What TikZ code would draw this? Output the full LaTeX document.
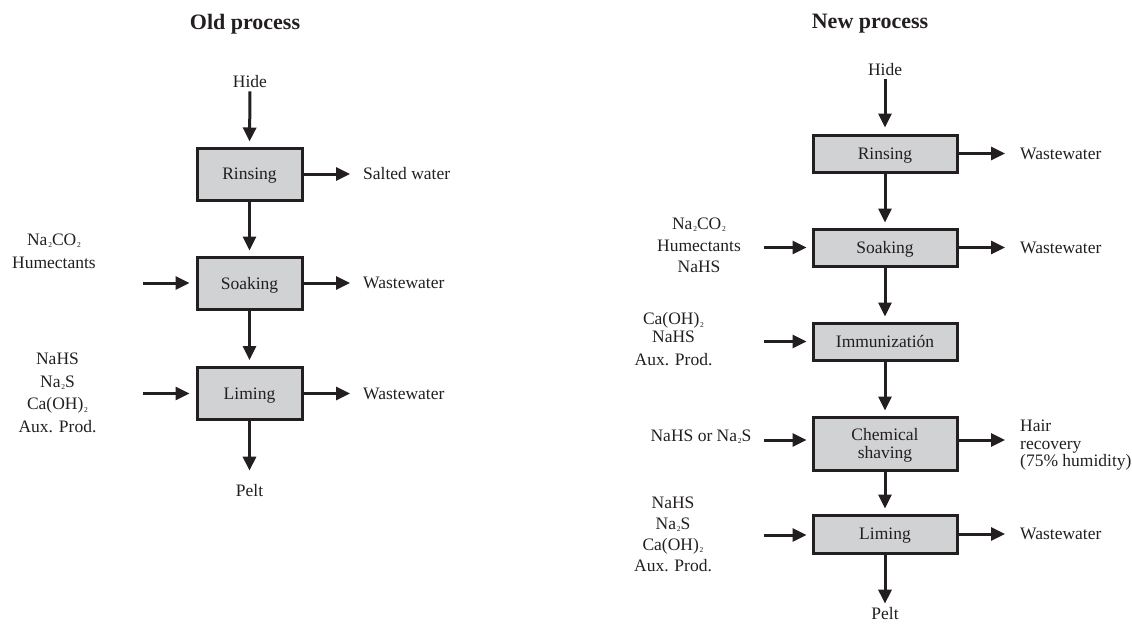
\documentclass[tikz,border=0pt]{standalone}
\usepackage{fontspec}
\setmainfont{Liberation Serif}
\usetikzlibrary{arrows.meta}
\definecolor{ink}{HTML}{231F20}
\definecolor{boxfill}{HTML}{D1D2D4}
\newcommand{\sbs}[1]{\kern0.8pt\raisebox{-0.12em}{\fontsize{7.5}{8}\selectfont #1}}
\tikzset{
  every node/.style={text=ink, font=\fontsize{17.5}{21}\selectfont},
  title/.style={font=\fontsize{22}{26}\selectfont\bfseries},
  oldbox/.style={draw=ink, fill=boxfill, line width=3pt, minimum width=105pt, minimum height=52pt, inner sep=0pt, text depth=0pt},
  newbox/.style={draw=ink, fill=boxfill, line width=3pt, minimum width=144pt, minimum height=37pt, inner sep=0pt, text depth=0pt},
  lbl/.style={align=center, inner sep=2pt},
  flow/.style={draw=ink, line width=3pt, -{Triangle[length=14pt,width=13pt]}},
}
\begin{document}
\begin{tikzpicture}[x=1pt,y=-1pt]
\useasboundingbox (0,0) rectangle (1132,624);
% ---------------- Old process ----------------
\node[title] (oldt) at (245,24) {Old process};
\node[lbl] (ohide) at (250,82) {Hide};
\node[oldbox] (orin) at (249.5,174) {Rinsing};
\node[oldbox] (osoak) at (249.5,283) {Soaking};
\node[oldbox] (olim) at (249.5,393.5) {Liming};
\node[lbl] (opelt) at (249.5,491) {Pelt};
\node[lbl, anchor=west] (osalt) at (361,174) {Salted water};
\node[lbl, anchor=west] (ow1) at (361,283) {Wastewater};
\node[lbl, anchor=west] (ow2) at (361,393.5) {Wastewater};
\node[lbl, font=\fontsize{17.5}{23}\selectfont] (oin1) at (54,251.5) {Na\sbs{2}CO\sbs{2}\\Humectants};
\node[lbl, font=\fontsize{17.5}{22.5}\selectfont] (oin2) at (57.5,393) {NaHS\\Na\sbs{2}S\\Ca(OH)\sbs{2}\\Aux. Prod.};
\coordinate (oc1) at (143,283);
\coordinate (oc2) at (143,393.5);
\draw[flow, shorten <=1pt, shorten >=5pt] (ohide.south) -- (orin.north);
\draw[flow, shorten >=5pt] (orin.south) -- (osoak.north);
\draw[flow, shorten >=6pt] (osoak.south) -- (olim.north);
\draw[flow, shorten >=12pt] (olim.south) -- (opelt.north);
\draw[flow, shorten >=11pt] (orin.east) -- (orin.east -| osalt.west);
\draw[flow, shorten >=11pt] (osoak.east) -- (osoak.east -| ow1.west);
\draw[flow, shorten >=11pt] (olim.east) -- (olim.east -| ow2.west);
\draw[flow, shorten >=6pt] (oc1) -- (osoak.west);
\draw[flow, shorten >=6pt] (oc2) -- (olim.west);
% ---------------- New process ----------------
\node[title] (newt) at (870,24) {New process};
\node[lbl] (nhide) at (885,70) {Hide};
\node[newbox] (nrin) at (885,153.5) {Rinsing};
\node[newbox] (nsoak) at (885,247.5) {Soaking};
\node[newbox] (nimm) at (885,341.5) {Immunizatión};
\node[newbox, minimum height=53pt, align=center, font=\fontsize{17.5}{18}\selectfont] (nchem) at (885,443.5) {Chemical\\shaving};
\node[newbox, minimum height=38pt] (nlim) at (885,534) {Liming};
\node[lbl] (npelt) at (885,614) {Pelt};
\node[lbl, anchor=west] (nw1) at (1018,153.5) {Wastewater};
\node[lbl, anchor=west] (nw2) at (1018,247.5) {Wastewater};
\node[lbl, anchor=west, align=left, font=\fontsize{17.5}{17.5}\selectfont] (nhair) at (1018,445.5) {Hair\\recovery\\(75\% humidity)};
\node[lbl, anchor=west] (nw3) at (1018,534) {Wastewater};
\node[lbl, font=\fontsize{17.5}{21.5}\selectfont] (nin1) at (699,245.5) {Na\sbs{2}CO\sbs{2}\\Humectants\\NaHS};
\node[lbl, font=\fontsize{17.5}{20.5}\selectfont] (nin2) at (673.5,339.5) {Ca(OH)\sbs{2}\\[-2.5pt]NaHS\\[2.5pt]Aux. Prod.};
\node[lbl] (nin3) at (701,437) {NaHS or Na\sbs{2}S};
\node[lbl, font=\fontsize{17.5}{21}\selectfont] (nin4) at (673,534.5) {NaHS\\Na\sbs{2}S\\Ca(OH)\sbs{2}\\Aux. Prod.};
\coordinate (nc1) at (764,247.5);
\coordinate (nc2) at (764,341.5);
\coordinate (nc3) at (764,440);
\coordinate (nc4) at (764,535);
\draw[flow, shorten <=1pt, shorten >=6pt] (nhide.south) -- (nrin.north);
\draw[flow, shorten >=5pt] (nrin.south) -- (nsoak.north);
\draw[flow, shorten >=5pt] (nsoak.south) -- (nimm.north);
\draw[flow, shorten >=5pt] (nimm.south) -- (nchem.north);
\draw[flow, shorten >=5pt] (nchem.south) -- (nlim.north);
\draw[flow, shorten >=2pt] (nlim.south) -- (npelt.north);
\draw[flow, shorten >=13pt] (nrin.east) -- (nrin.east -| nw1.west);
\draw[flow, shorten >=13pt] (nsoak.east) -- (nsoak.east -| nw2.west);
\draw[flow, shorten >=13pt] (nchem.east |- nc3) -- (nc3 -| nhair.west);
\draw[flow, shorten >=13pt] (nlim.east) -- (nlim.east -| nw3.west);
\draw[flow, shorten >=5pt] (nc1) -- (nsoak.west);
\draw[flow, shorten >=5pt] (nc2) -- (nimm.west);
\draw[flow, shorten >=5pt] (nc3) -- (nc3 -| nchem.west);
\draw[flow, shorten >=5pt] (nc4) -- (nc4 -| nlim.west);
\end{tikzpicture}
\end{document}
